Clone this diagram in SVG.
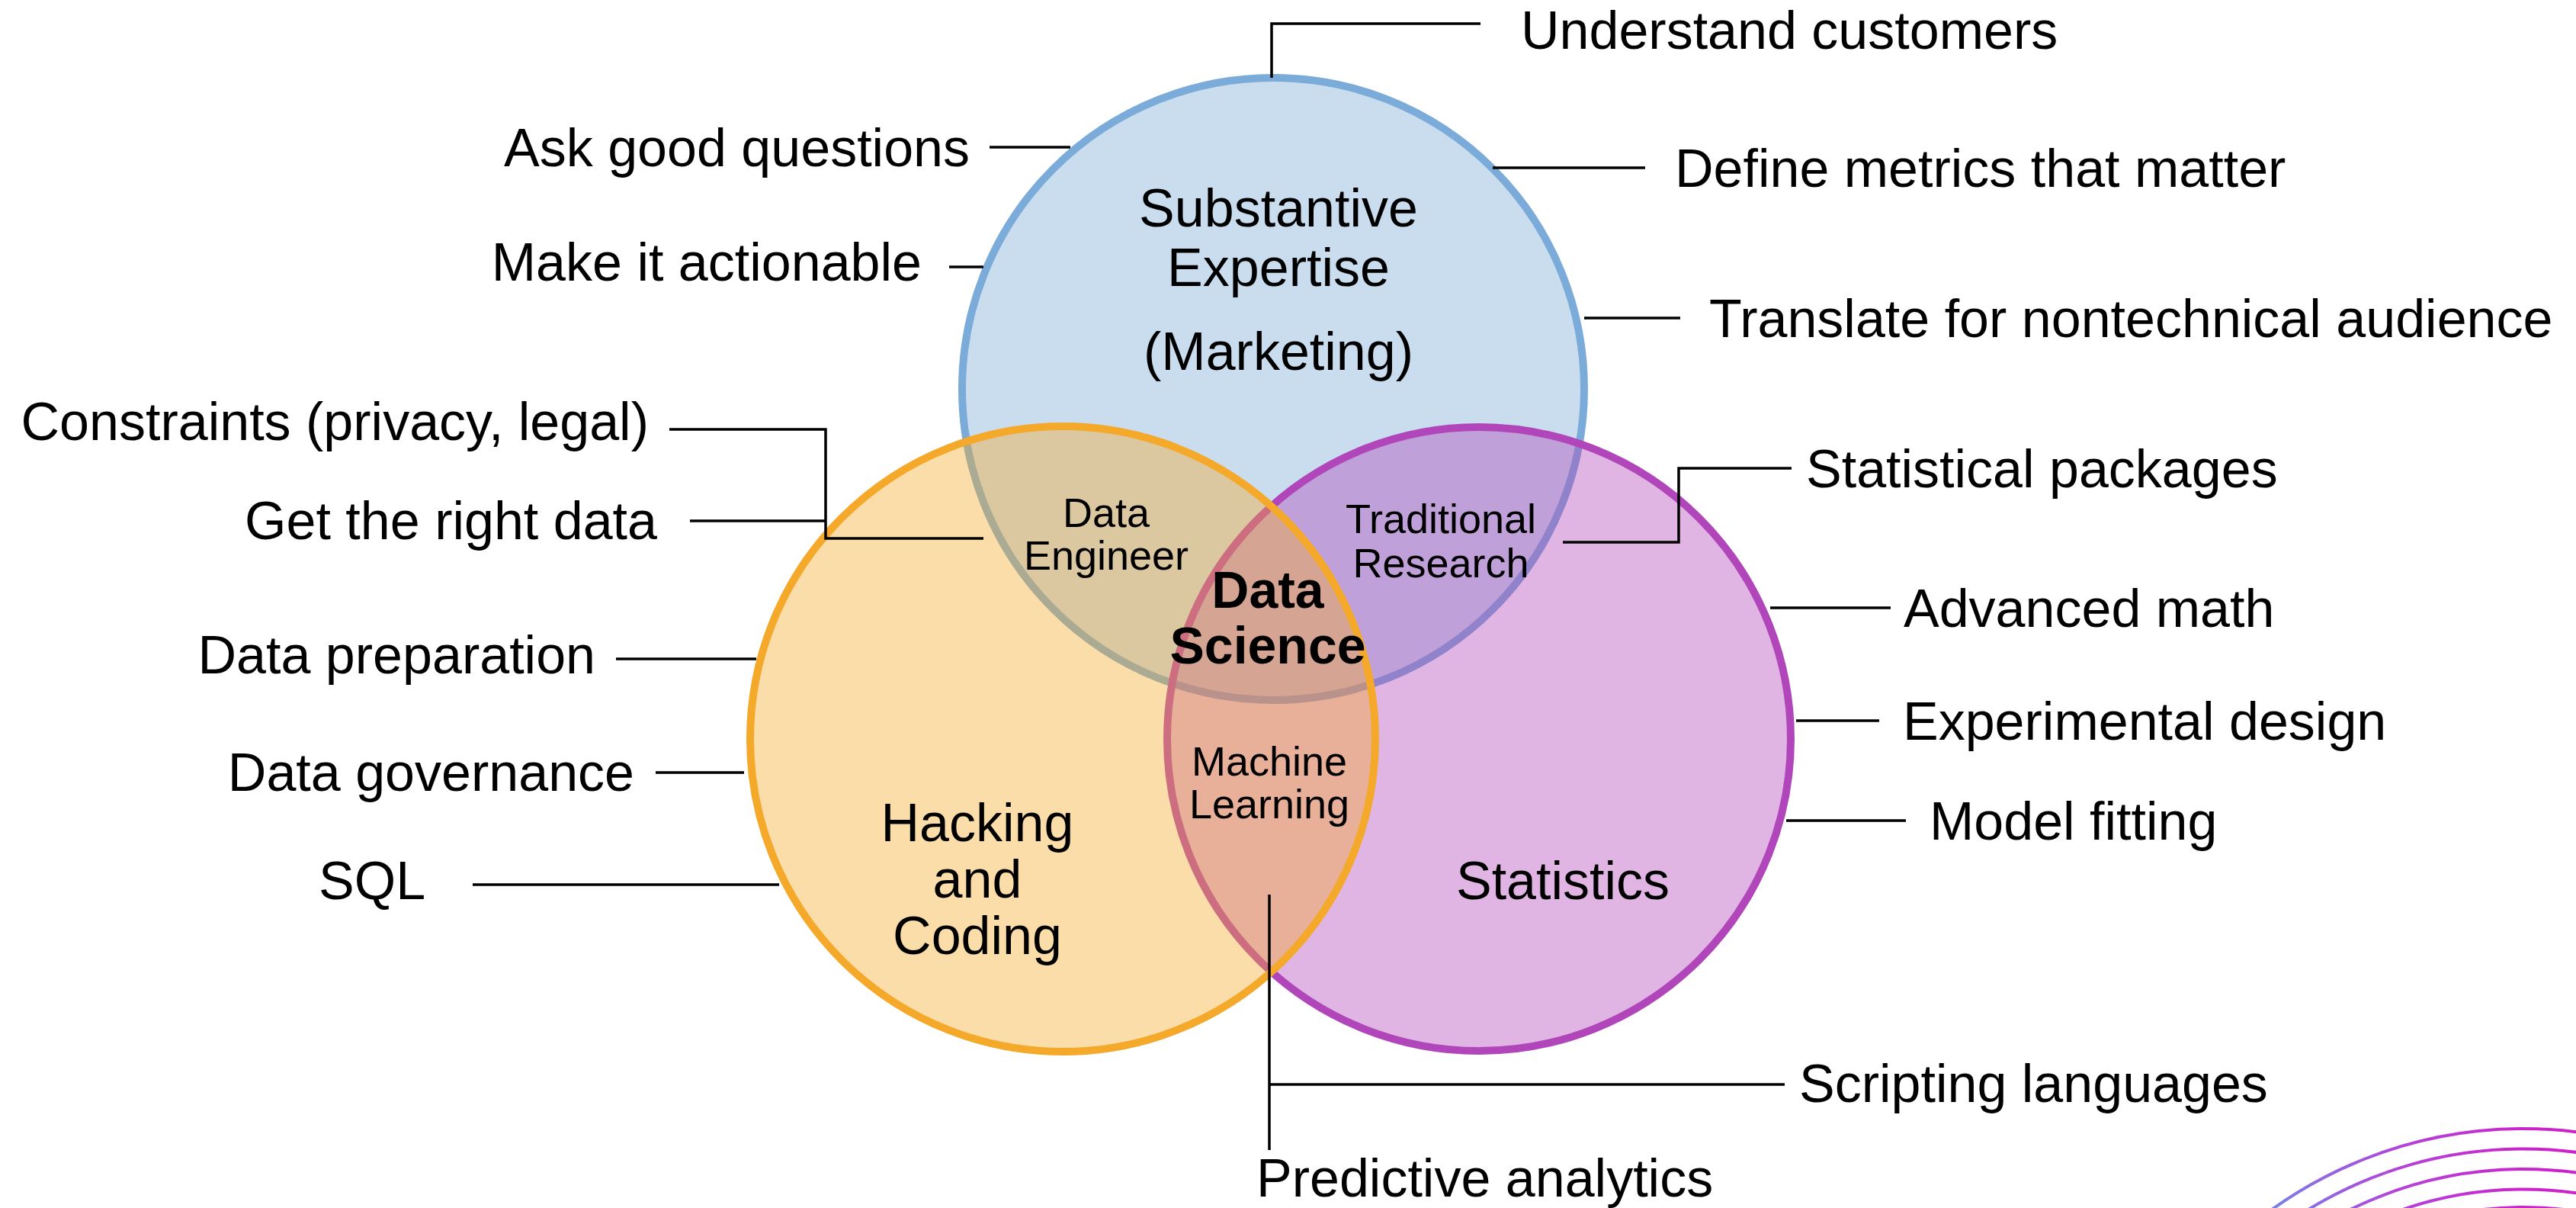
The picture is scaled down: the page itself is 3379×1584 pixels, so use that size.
<svg xmlns="http://www.w3.org/2000/svg" width="3379" height="1584" viewBox="0 0 3379 1584">
<defs>
<style>
.t{font-family:"Liberation Sans",Arial,Helvetica,sans-serif;font-size:70px;fill:#000}
.s{font-size:54px}
.b{font-weight:bold;font-size:68px}
.m{text-anchor:middle}
.e{text-anchor:end}
.c{stroke:#000;stroke-width:3.5;fill:none}
.set{stroke-width:10;fill-opacity:0.4}
.arc{fill:none;stroke:url(#ag);stroke-width:4}
</style>
<linearGradient id="ag" gradientUnits="userSpaceOnUse" x1="2980" y1="0" x2="3320" y2="0">
<stop offset="0" stop-color="#7A80E8"/>
<stop offset="0.5" stop-color="#B443D8"/>
<stop offset="1" stop-color="#CC22CC"/>
</linearGradient>
</defs>
<rect width="3379" height="1584" fill="#fff"/>

<g id="set-substantive">
<circle class="set" cx="1670" cy="510" r="408" fill="#7BABD8" stroke="#7BABD8"/>
</g>
<g id="set-statistics">
<circle class="set" cx="1940" cy="969" r="409" fill="#B146BA" stroke="#B146BA"/>
</g>
<g id="set-hacking">
<circle class="set" cx="1394" cy="969" r="410" fill="#F5A92A" stroke="#F5A92A"/>
</g>

<g id="connectors">
<polyline class="c" points="1668,102 1668,31 1942,31"/>
<line class="c" x1="1298" y1="193" x2="1404" y2="193"/>
<line class="c" x1="1245" y1="350" x2="1290" y2="350"/>
<polyline class="c" points="878,563 1083,563 1083,706 1290,706"/>
<line class="c" x1="905" y1="683" x2="1083" y2="683"/>
<line class="c" x1="808" y1="864" x2="992" y2="864"/>
<line class="c" x1="860" y1="1013" x2="976" y2="1013"/>
<line class="c" x1="620" y1="1160" x2="1022" y2="1160"/>
<line class="c" x1="1958" y1="220" x2="2158" y2="220"/>
<line class="c" x1="2078" y1="417" x2="2204" y2="417"/>
<polyline class="c" points="2050,711 2202,711 2202,614 2350,614"/>
<line class="c" x1="2322" y1="797" x2="2480" y2="797"/>
<line class="c" x1="2356" y1="945" x2="2465" y2="945"/>
<line class="c" x1="2343" y1="1076" x2="2500" y2="1076"/>
<line class="c" x1="1665" y1="1173" x2="1665" y2="1508"/>
<line class="c" x1="1665" y1="1422" x2="2341" y2="1422"/>
</g>

<g id="label-substantive" class="t m">
<text x="1677" y="297">Substantive</text>
<text x="1677" y="375">Expertise</text>
<text x="1677" y="485">(Marketing)</text>
</g>
<g id="label-hacking" class="t m">
<text x="1282" y="1103">Hacking</text>
<text x="1282" y="1177">and</text>
<text x="1282" y="1251">Coding</text>
</g>
<g id="label-statistics" class="t m">
<text x="2050" y="1179">Statistics</text>
</g>
<g id="label-data-engineer" class="t s m">
<text x="1451" y="691">Data</text>
<text x="1451" y="747">Engineer</text>
</g>
<g id="label-traditional-research" class="t s m">
<text x="1890" y="699">Traditional</text>
<text x="1890" y="757">Research</text>
</g>
<g id="label-machine-learning" class="t s m">
<text x="1665" y="1017">Machine</text>
<text x="1665" y="1073">Learning</text>
</g>
<g id="label-data-science" class="t b m">
<text x="1663" y="797">Data</text>
<text x="1663" y="870">Science</text>
</g>

<g id="n-understand" class="t"><text x="1995" y="64">Understand customers</text></g>
<g id="n-ask" class="t e"><text x="1272" y="218">Ask good questions</text></g>
<g id="n-actionable" class="t e"><text x="1209" y="368">Make it actionable</text></g>
<g id="n-constraints" class="t e"><text x="851" y="577">Constraints (privacy, legal)</text></g>
<g id="n-right-data" class="t e"><text x="862" y="707">Get the right data</text></g>
<g id="n-preparation" class="t e"><text x="781" y="883">Data preparation</text></g>
<g id="n-governance" class="t e"><text x="832" y="1037">Data governance</text></g>
<g id="n-sql" class="t"><text x="418" y="1179">SQL</text></g>
<g id="n-metrics" class="t"><text x="2197" y="245">Define metrics that matter</text></g>
<g id="n-translate" class="t"><text x="2242" y="442">Translate for nontechnical audience</text></g>
<g id="n-packages" class="t"><text x="2369" y="639">Statistical packages</text></g>
<g id="n-math" class="t"><text x="2497" y="822">Advanced math</text></g>
<g id="n-experimental" class="t"><text x="2496" y="970">Experimental design</text></g>
<g id="n-model" class="t"><text x="2531" y="1101">Model fitting</text></g>
<g id="n-scripting" class="t"><text x="2360" y="1445">Scripting languages</text></g>
<g id="n-predictive" class="t"><text x="1648" y="1569">Predictive analytics</text></g>

<g id="decor-arcs">
<circle class="arc" cx="3310" cy="2046" r="566"/>
<circle class="arc" cx="3310" cy="2046" r="539.5"/>
<circle class="arc" cx="3310" cy="2046" r="513"/>
<circle class="arc" cx="3310" cy="2046" r="486.5"/>
<circle class="arc" cx="3310" cy="2046" r="463"/>
</g>
</svg>
